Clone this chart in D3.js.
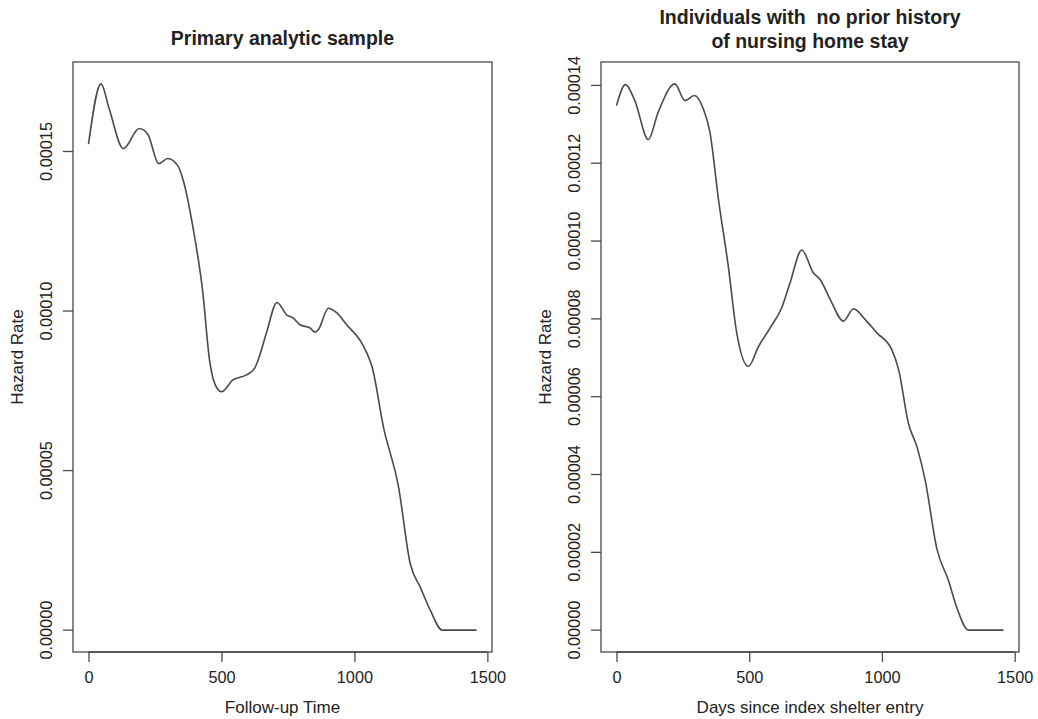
<!DOCTYPE html>
<html>
<head>
<meta charset="utf-8">
<script src="https://cdn.jsdelivr.net/npm/d3@7"></script>
<style>
  body { margin: 0; background: #fff; }
  text { font-family: "Liberation Sans", Arial, sans-serif; fill: #222; white-space: pre; }
</style>
</head>
<body>
<svg id="chart" width="1038" height="719"></svg>
<script>
// hazard curves (days, hazard)
const primaryDays = [0, 47, 78, 131, 191, 223, 264, 298, 336, 355, 392, 430, 455, 474, 500, 543, 594, 625, 638, 669, 709, 745, 770, 795, 833, 852, 864, 902, 934, 971, 1028, 1047, 1066, 1109, 1166, 1210, 1248, 1286, 1330, 1459];
const primaryHazard = [1.523e-4, 1.712e-4, 1.633e-4, 1.509e-4, 1.572e-4, 1.554e-4, 1.462e-4, 1.478e-4, 1.455e-4, 1.413e-4, 1.266e-4, 1.057e-4, 0.847e-4, 0.774e-4, 0.747e-4, 0.784e-4, 0.800e-4, 0.821e-4, 0.847e-4, 0.931e-4, 1.027e-4, 0.988e-4, 0.978e-4, 0.957e-4, 0.947e-4, 0.934e-4, 0.941e-4, 1.009e-4, 0.994e-4, 0.957e-4, 0.899e-4, 0.868e-4, 0.826e-4, 0.637e-4, 0.448e-4, 0.208e-4, 0.134e-4, 0.061e-4, 0, 0];

const noNhDays = [0, 34, 69, 120, 157, 220, 258, 293, 327, 352, 384, 421, 453, 497, 535, 579, 622, 654, 698, 742, 767, 805, 855, 893, 937, 981, 1037, 1063, 1100, 1132, 1163, 1207, 1251, 1282, 1326, 1458];
const noNhHazard = [1.348e-4, 1.402e-4, 1.361e-4, 1.261e-4, 1.331e-4, 1.404e-4, 1.361e-4, 1.374e-4, 1.340e-4, 1.280e-4, 1.108e-4, 0.936e-4, 0.764e-4, 0.678e-4, 0.729e-4, 0.777e-4, 0.828e-4, 0.893e-4, 0.977e-4, 0.918e-4, 0.901e-4, 0.850e-4, 0.794e-4, 0.826e-4, 0.798e-4, 0.764e-4, 0.721e-4, 0.669e-4, 0.531e-4, 0.471e-4, 0.385e-4, 0.209e-4, 0.127e-4, 0.058e-4, 0, 0];

const xTicks = [0, 500, 1000, 1500];
const primaryYTicks = [0, 0.00005, 0.00010, 0.00015];
const noNhYTicks = [0, 0.00002, 0.00004, 0.00006, 0.00008, 0.00010, 0.00012, 0.00014];

const svg = d3.select("#chart");
const ink = "#4a4a4a";

function panel(opts) {
  const { left, right, top, bottom } = opts.box;
  const data = opts.days.map((d, i) => [d, opts.hazard[i]]);

  // R style: pad the data range by 4% on each side
  const xExt = d3.extent(opts.days), yExt = d3.extent(opts.hazard);
  const xPad = (xExt[1] - xExt[0]) * 0.04, yPad = (yExt[1] - yExt[0]) * 0.04;
  const x = d3.scaleLinear().domain([xExt[0] - xPad, xExt[1] + xPad]).range([left, right]);
  const y = d3.scaleLinear().domain([yExt[0] - yPad, yExt[1] + yPad]).range([bottom, top]);

  const g = svg.append("g");

  g.append("rect")
    .attr("x", left).attr("y", top)
    .attr("width", right - left).attr("height", bottom - top)
    .attr("fill", "none").attr("stroke", ink).attr("stroke-width", 1.3);

  const line = d3.line()
    .x((d) => x(d[0]))
    .y((d) => y(d[1]))
    .curve(d3.curveMonotoneX);

  g.append("path")
    .datum(data)
    .attr("d", line)
    .attr("fill", "none")
    .attr("stroke", ink)
    .attr("stroke-width", 1.6);

  // x axis
  const xAxis = g.append("g")
    .attr("transform", `translate(0,${bottom})`)
    .call(d3.axisBottom(x).tickValues(xTicks).tickSize(10).tickPadding(9).tickFormat(d3.format("d")));
  // y axis
  const yAxis = g.append("g")
    .attr("transform", `translate(${left},0)`)
    .call(d3.axisLeft(y).tickValues(opts.yTicks).tickSize(10).tickFormat(d3.format(".5f")));

  [xAxis, yAxis].forEach((a) => {
    a.select(".domain").remove();
    a.selectAll("line").attr("stroke", ink).attr("stroke-width", 1.3);
    a.selectAll("text").attr("font-size", 16.3).attr("fill", "#2a2a2a")
      .style("font-family", '"Liberation Sans", Arial, sans-serif');
  });

  // R draws the axis line between first and last tick
  g.append("line")
    .attr("x1", x(xTicks[0])).attr("x2", x(xTicks[xTicks.length - 1]))
    .attr("y1", bottom).attr("y2", bottom)
    .attr("stroke", ink).attr("stroke-width", 1.3);

  yAxis.selectAll("text")
    .attr("x", null).attr("dy", null)
    .attr("text-anchor", "middle")
    .attr("transform", (d) => `translate(-21,${y(d)}) rotate(-90)`)
    .attr("y", 0);
  yAxis.selectAll(".tick").attr("transform", null);
  yAxis.selectAll(".tick line").attr("y1", (d) => y(d)).attr("y2", (d) => y(d));

  const cx = (left + right) / 2;
  g.append("text")
    .attr("x", cx).attr("y", 713)
    .attr("text-anchor", "middle")
    .attr("font-size", 17)
    .text(opts.xLabel);

  g.append("text")
    .attr("transform", `translate(${left - 50},${(top + bottom) / 2}) rotate(-90)`)
    .attr("text-anchor", "middle")
    .attr("font-size", 17)
    .text("Hazard Rate");

  opts.title.forEach((t, i) => {
    g.append("text")
      .attr("x", cx).attr("y", opts.titleY + i * 24.5)
      .attr("text-anchor", "middle")
      .attr("font-size", 19.5)
      .attr("font-weight", "bold")
      .text(t);
  });
}

panel({
  box: { left: 73, right: 492, top: 62, bottom: 652 },
  days: primaryDays,
  hazard: primaryHazard,
  yTicks: primaryYTicks,
  xLabel: "Follow-up Time",
  title: ["Primary analytic sample"],
  titleY: 45
});

panel({
  box: { left: 601, right: 1019, top: 62, bottom: 652 },
  days: noNhDays,
  hazard: noNhHazard,
  yTicks: noNhYTicks,
  xLabel: "Days since index shelter entry",
  title: ["Individuals with  no prior history", "of nursing home stay"],
  titleY: 23.5
});
</script>
</body>
</html>
